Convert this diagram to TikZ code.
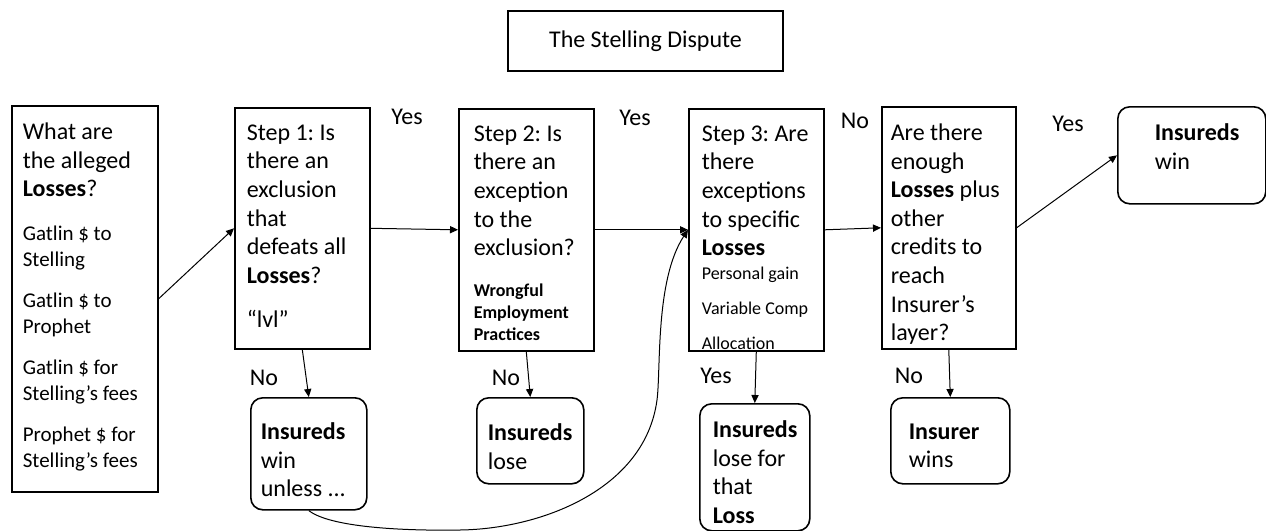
\documentclass[tikz,border=0pt]{standalone}
\usepackage{fontspec}
\setmainfont{Carlito}
\usetikzlibrary{arrows.meta}
\frenchspacing
\newcommand{\boxtext}[3]{\parbox[c][#1][t]{#2}{\raggedright\hyphenpenalty=10000 #3}}
\newcommand{\mainsize}{\fontsize{12}{14.3}\selectfont}
\newcommand{\listsize}{\fontsize{10.5}{13}\selectfont}
\newcommand{\smallsize}{\fontsize{9}{11}\selectfont}

\begin{document}
\begin{tikzpicture}[x=0.5pt, y=-0.5pt,
  stepbox/.style={draw, line width=0.8pt, anchor=north west, inner ysep=8.5pt, font=\mainsize},
  endbox/.style={stepbox, rounded corners=6pt},
  answer/.style={inner sep=0pt, font=\mainsize},
  link/.style={line width=0.5pt, -{Triangle[length=4pt,width=3.6pt]}}]
  \useasboundingbox (0,0) rectangle (1266,531);
  % Title
  \node[draw, line width=0.8pt, minimum width=137.5pt, minimum height=30pt, font=\mainsize] (title) at (645.5,41) {The Stelling Dispute};
  % Questions
  \node[stepbox, inner xsep=5.5pt] (losses) at (11,105) {\boxtext{176pt}{62pt}{What are\\the alleged\\\textbf{Losses}?\par
    \listsize\vspace{9pt}Gatlin \$ to\\Stelling\par
    \vspace{7.5pt}Gatlin \$ to\\Prophet\par
    \vspace{7.5pt}Gatlin \$ for\\Stelling’s fees\par
    \vspace{7.5pt}Prophet \$ for\\Stelling’s fees}};
  \node[stepbox, inner xsep=6pt] (step1) at (234,107) {\boxtext{103.5pt}{55.5pt}{Step 1: Is\\there an\\exclusion\\that\\defeats all\\\textbf{Losses}?\par
    \vspace{7.8pt}“lvl”}};
  \node[stepbox, inner xsep=7.5pt] (step2) at (458,108) {\boxtext{104pt}{52.5pt}{Step 2: Is\\there an\\exception\\to the\\exclusion?\par
    \smallsize\bfseries\vspace{9.5pt}Wrongful\\Employment\\Practices}};
  \node[stepbox, inner xsep=6.5pt] (step3) at (688,108) {\boxtext{104pt}{54.5pt}{Step 3: Are\\there\\exceptions\\to specific\\\textbf{Losses}\par
    \smallsize\vspace{1pt}Personal gain\\[6.5pt]Variable Comp\\[6.5pt]Allocation}};
  \node[stepbox, inner xsep=4.5pt] (layer) at (881,106) {\boxtext{104pt}{58pt}{Are there\\enough\\\textbf{Losses} plus\\other\\credits to\\reach\\Insurer’s\\layer?}};
  % Outcomes
  \node[endbox, inner xsep=5pt, inner ysep=12.5pt] (winunless) at (250,397) {\boxtext{31pt}{48pt}{\textbf{Insureds}\\win\\unless ...}};
  \node[endbox, inner xsep=5.5pt, inner ysep=13pt] (lose) at (476,397) {\boxtext{17pt}{42.5pt}{\textbf{Insureds}\\lose}};
  \node[endbox, inner xsep=6.5pt] (loseloss) at (699,403) {\boxtext{46.5pt}{42pt}{\textbf{Insureds}\\lose for\\that\\\textbf{Loss}}};
  \node[endbox, inner xsep=9pt, inner ysep=13pt] (insurerwins) at (890,397) {\boxtext{17pt}{41.5pt}{\textbf{Insurer}\\wins}};
  \node[endbox, inner xsep=18.5pt] (insuredswin) at (1117,106) {\boxtext{31.5pt}{37pt}{\textbf{Insureds}\\win}};
  % Answers
  \node[answer] (yes1) at (407,117) {Yes};
  \node[answer] (yes2) at (635,118) {Yes};
  \node[answer] (no3) at (855,121) {No};
  \node[answer] (yes4) at (1068,124) {Yes};
  \node[answer] (no1) at (264,378) {No};
  \node[answer] (no2) at (506,378) {No};
  \node[answer] (yes3) at (716,376) {Yes};
  \node[answer] (no4) at (909,376) {No};
  % Arrows
  \draw[link] (losses.east) -- (step1.west);
  \draw[link] (step1.east) -- (step2.west);
  \draw[link] (step2.east) -- (step3.west);
  \draw[link] (step3.east) -- (layer.west);
  \draw[link] (layer.east) -- (insuredswin.west);
  \draw[link] (step1.south) -- (winunless.north);
  \draw[link] (step2.south) -- (lose.north);
  \draw[link] (step3.south) -- (loseloss.north);
  \draw[link] (layer.south) -- (insurerwins.north);
  \draw[link] (winunless.south) .. controls (330,527) and (400,531) .. (460,530)
    .. controls (540,529) and (645,490) .. (657,400)
    .. controls (661,370) and (655,280) .. (step3.west);
\end{tikzpicture}
\end{document}
